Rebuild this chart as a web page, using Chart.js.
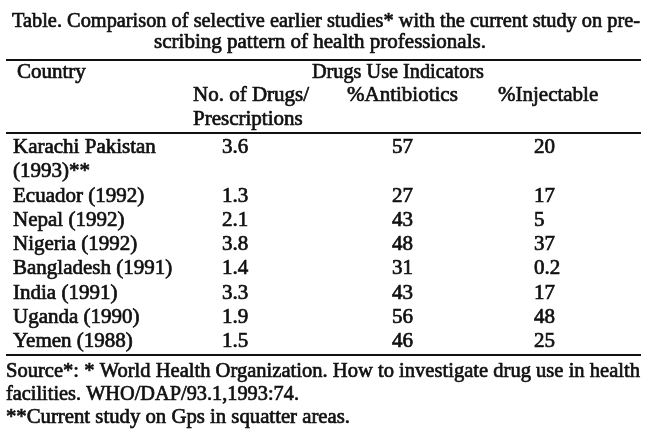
<!DOCTYPE html>
<html>
<head>
<meta charset="utf-8">
<script src="https://cdn.jsdelivr.net/npm/chart.js@4.4.0/dist/chart.umd.min.js"></script>
<style>
    html, body { margin: 0; padding: 0; background: #fff; }
    canvas { display: block; }
</style>
</head>
<body>
<canvas id="table" width="650" height="438"></canvas>
<script>
// Table data
const countryLines = [
    ['Karachi Pakistan', '(1993)**'],
    ['Ecuador (1992)'],
    ['Nepal (1992)'],
    ['Nigeria (1992)'],
    ['Bangladesh (1991)'],
    ['India (1991)'],
    ['Uganda (1990)'],
    ['Yemen (1988)']
];
const drugsPerPrescription = [3.6, 1.3, 2.1, 3.8, 1.4, 3.3, 1.9, 1.5];
const antibioticsPct = [57, 27, 43, 48, 31, 43, 56, 46];
const injectablePct = [20, 17, 5, 37, 0.2, 17, 48, 25];

const titleLines = [
    'Table. Comparison of selective earlier studies* with the current study on pre-',
    'scribing pattern of health professionals.'
];
const groupHeader = 'Drugs Use Indicators';
const columnHeaders = [['Country'], ['No. of Drugs/', 'Prescriptions'], ['%Antibiotics'], ['%Injectable']];
const sourceLines = [
    'Source*: * World Health Organization. How to investigate drug use in health',
    'facilities. WHO/DAP/93.1,1993:74.'
];
const footnote = '**Current study on Gps in squatter areas.';

// Layout (table units, mapped by the hidden scales)
const ink = '#111';
const fontFamily = '"Liberation Serif", "Times New Roman", serif';
const fontSize = 21;
const cellX = [13, 222, 392, 534];
const headerX = [17, 193, 347, 498];
const firstBaseline = 153;
const linePitch = 24.25;

// Line index of each row's first line
const rowLine = [];
countryLines.reduce((k, lines, i) => { rowLine[i] = k; return k + lines.length; }, 0);
const lineY = k => firstBaseline + k * linePitch;

function cellDataset(texts, col) {
    return {
        data: texts.map((t, i) => ({ x: cellX[col], y: lineY(rowLine[i]) })),
        cellText: texts,
        pointRadius: 0,
        pointHoverRadius: 0
    };
}

const tableText = {
    id: 'tableText',
    afterDatasetsDraw(chart) {
        const { ctx, scales: { x, y } } = chart;
        const px = v => x.getPixelForValue(v);
        const py = v => y.getPixelForValue(v);

        ctx.save();
        ctx.fillStyle = ink;
        ctx.strokeStyle = ink;
        ctx.textBaseline = 'alphabetic';

        // draws text, optionally squeezed/stretched to a given width
        const put = (text, tx, ty, align, fitWidth) => {
            ctx.font = fontSize + 'px ' + fontFamily;
            ctx.lineWidth = 0.7;
            const w = ctx.measureText(text).width;
            const sx = fitWidth ? fitWidth / w : 1;
            const left = align === 'center' ? tx - (w * sx) / 2 : tx;
            ctx.save();
            ctx.translate(left, ty);
            ctx.scale(sx, 1);
            ctx.fillText(text, 0, 0);
            ctx.strokeText(text, 0, 0);
            ctx.restore();
        };

        // Title
        put(titleLines[0], px(12), py(27), 'left', px(640) - px(12));
        put(titleLines[1], px(320), py(48), 'center');

        // Rules
        [60, 133, 355].forEach(r => {
            ctx.lineWidth = 2;
            ctx.beginPath();
            ctx.moveTo(px(6), py(r));
            ctx.lineTo(px(641), py(r));
            ctx.stroke();
        });

        // Headers
        put(columnHeaders[0][0], px(headerX[0]), py(78), 'left');
        put(groupHeader, px(312), py(78), 'left', px(484) - px(312));
        columnHeaders.slice(1).forEach((lines, c) => {
            lines.forEach((t, k) => put(t, px(headerX[c + 1]), py(101 + k * 24), 'left'));
        });

        // Body cells
        chart.data.datasets.forEach((ds, di) => {
            chart.getDatasetMeta(di).data.forEach((pt, i) => {
                const lines = [].concat(ds.cellText[i]);
                lines.forEach((t, k) => put(t, pt.x, pt.y + k * (py(linePitch) - py(0)), 'left'));
            });
        });

        // Source notes
        put(sourceLines[0], px(6), py(377), 'left', px(640) - px(6));
        put(sourceLines[1], px(6), py(400), 'left', px(299) - px(6));
        put(footnote, px(6), py(423), 'left', px(350) - px(6));

        ctx.restore();
    }
};

new Chart(document.getElementById('table'), {
    type: 'scatter',
    data: {
        datasets: [
            cellDataset(countryLines, 0),
            cellDataset(drugsPerPrescription.map(v => v.toFixed(1)), 1),
            cellDataset(antibioticsPct.map(String), 2),
            cellDataset(injectablePct.map(String), 3)
        ]
    },
    options: {
        responsive: false,
        animation: false,
        events: [],
        layout: { padding: 0 },
        plugins: { legend: { display: false }, tooltip: { enabled: false } },
        scales: {
            x: { type: 'linear', min: 0, max: 650, display: false },
            y: { type: 'linear', min: 0, max: 438, reverse: true, display: false }
        }
    },
    plugins: [tableText]
});
</script>
</body>
</html>
